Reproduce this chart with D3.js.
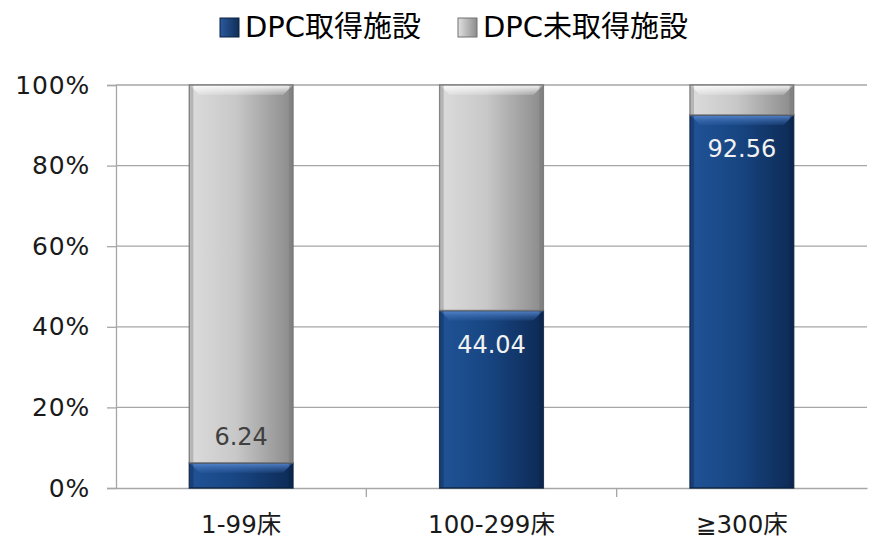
<!DOCTYPE html>
<html>
<head>
<meta charset="utf-8">
<script src="https://cdn.jsdelivr.net/npm/d3@7"></script>
<style>
  body { margin: 0; background: #fff; }
  text { font-family: "DejaVu Sans", "Noto Sans CJK JP", sans-serif; }
</style>
</head>
<body>
<div id="chart"></div>
<script>
// DPC bars, stacked to 100%

// Data
var categories = ['1-99床', '100-299床', '≧300床']
var seriesNames = ['DPC取得施設', 'DPC未取得施設']
var dpcValues = [6.24, 44.04, 92.56]
var nonDpcValues = [93.76, 55.96, 7.44]
var yTicks = [0, 20, 40, 60, 80, 100]

var chart = {
  width: 870,
  height: 542,
  margin: { top: 85, right: 3, bottom: 54, left: 116 },
}

var fontFamily = '"DejaVu Sans", "Noto Sans CJK JP", sans-serif'

chart.svg = d3.select('#chart')
  .append('svg')
  .attr('width', chart.width)
  .attr('height', chart.height)

var defs = chart.svg.append('defs')

// shading for the two series
function addGradient(id, stops, vertical) {
  let g = defs.append('linearGradient')
    .attr('id', id)
    .attr('x1', 0).attr('y1', 0)
    .attr('x2', vertical ? 0 : 1).attr('y2', vertical ? 1 : 0)
  stops.forEach((s) => {
    g.append('stop')
      .attr('offset', s[0])
      .attr('stop-color', s[1])
      .attr('stop-opacity', s[2] === undefined ? 1 : s[2])
  })
}
addGradient('gradBlue', [[0, '#205396'], [0.45, '#184683'], [1, '#0d2a55']])
addGradient('gradGray', [[0, '#dcdcdc'], [0.45, '#c8c8c8'], [1, '#8a8a8a']])
addGradient('legBlue', [[0, '#2a5a9c'], [1, '#102e58']])
addGradient('legGray', [[0, '#e0e0e0'], [1, '#8c8c8c']])
addGradient('bevelGray', [[0, '#ffffff', 0.9], [1, '#ffffff', 0.15]], true)
addGradient('bevelBlue', [[0, '#5a8ad0', 0.95], [1, '#3a6ab0', 0.2]], true)

var innerW = chart.width - chart.margin.left - chart.margin.right
var innerH = chart.height - chart.margin.top - chart.margin.bottom

var x = d3.scaleBand()
  .domain(categories)
  .range([chart.margin.left, chart.margin.left + innerW])
  .paddingInner(0.586)
  .paddingOuter(0.293)

var y = d3.scaleLinear()
  .domain([0, 100])
  .range([chart.margin.top + innerH, chart.margin.top])

// gridlines
chart.svg.append('g')
  .selectAll('line')
  .data(yTicks.filter((d) => d > 0))
  .enter()
  .append('line')
    .attr('x1', chart.margin.left)
    .attr('x2', chart.margin.left + innerW)
    .attr('y1', (d) => y(d))
    .attr('y2', (d) => y(d))
    .attr('stroke', '#a6a6a6')
    .attr('stroke-width', 1.3)

// y axis
var yAxis = chart.svg.append('g')
  .attr('transform', `translate(${chart.margin.left},0)`)
  .call(d3.axisLeft(y).tickValues(yTicks).tickFormat((d) => d + '%').tickSize(9).tickPadding(17))
yAxis.select('.domain').attr('stroke', '#a6a6a6').attr('stroke-width', 1.3)
yAxis.selectAll('.tick line').attr('stroke', '#a6a6a6').attr('stroke-width', 1.3)
yAxis.selectAll('.tick text')
  .attr('font-size', 25)
  .attr('letter-spacing', 0.8)
  .attr('fill', '#1a1a1a')
  .attr('font-family', fontFamily)

// x axis
var xAxis = chart.svg.append('g')
  .attr('transform', `translate(0,${y(0)})`)
  .call(d3.axisBottom(x).tickSize(0).tickPadding(28))
xAxis.select('.domain').attr('stroke', '#a6a6a6').attr('stroke-width', 1.3)
xAxis.selectAll('.tick text')
  .attr('font-size', 24.5)
  .attr('fill', '#1a1a1a')
  .attr('font-family', fontFamily)

// category separators on x axis
var step = x.step()
xAxis.selectAll('line.sep')
  .data(categories.slice(1))
  .enter()
  .append('line')
    .attr('class', 'sep')
    .attr('x1', (d) => x(d) - (step - x.bandwidth()) / 2)
    .attr('x2', (d) => x(d) - (step - x.bandwidth()) / 2)
    .attr('y1', 0)
    .attr('y2', 9)
    .attr('stroke', '#a6a6a6')
    .attr('stroke-width', 1.3)

// stacked segments
var segments = []
categories.forEach((c, i) => {
  segments.push({ cat: c, y0: 0, y1: dpcValues[i], fill: 'url(#gradBlue)', bevel: 'url(#bevelBlue)', edge: '#0b2040' })
  segments.push({ cat: c, y0: dpcValues[i], y1: dpcValues[i] + nonDpcValues[i], fill: 'url(#gradGray)', bevel: 'url(#bevelGray)', edge: '#707070' })
})

var seg = chart.svg.append('g')
  .selectAll('g.seg')
  .data(segments)
  .enter()
  .append('g')
    .attr('class', 'seg')

seg.append('rect')
  .attr('x', (d) => x(d.cat))
  .attr('y', (d) => y(d.y1))
  .attr('width', x.bandwidth())
  .attr('height', (d) => y(d.y0) - y(d.y1))
  .attr('fill', (d) => d.fill)

// top bevel
seg.append('path')
  .attr('d', (d) => {
    let x0 = x(d.cat), x1 = x0 + x.bandwidth(), t = y(d.y1)
    let b = Math.min(10, (y(d.y0) - y(d.y1)) / 2)
    return `M ${x0},${t} L ${x1},${t} L ${x1 - b},${t + b} L ${x0 + b},${t + b} Z`
  })
  .attr('fill', (d) => d.bevel)

// darker side strips
seg.append('rect')
  .attr('x', (d) => x(d.cat) + 1)
  .attr('y', (d) => y(d.y1))
  .attr('width', 3)
  .attr('height', (d) => y(d.y0) - y(d.y1))
  .attr('fill', (d) => d.edge)
  .attr('fill-opacity', 0.35)
seg.append('rect')
  .attr('x', (d) => x(d.cat) + x.bandwidth() - 4)
  .attr('y', (d) => y(d.y1))
  .attr('width', 3)
  .attr('height', (d) => y(d.y0) - y(d.y1))
  .attr('fill', (d) => d.edge)
  .attr('fill-opacity', 0.35)

// outline
seg.append('rect')
  .attr('x', (d) => x(d.cat))
  .attr('y', (d) => y(d.y1))
  .attr('width', x.bandwidth())
  .attr('height', (d) => y(d.y0) - y(d.y1))
  .attr('fill', 'none')
  .attr('stroke', (d) => d.edge)
  .attr('stroke-width', 1.5)
  .attr('stroke-opacity', 0.85)

// data labels
chart.svg.append('g')
  .selectAll('text')
  .data(dpcValues)
  .enter()
  .append('text')
    .attr('x', (d, i) => x(categories[i]) + x.bandwidth() / 2)
    .attr('y', (d) => (y(0) - y(d) > 50 ? y(d) + 42 : y(d) - 18))
    .attr('text-anchor', 'middle')
    .attr('font-size', 24)
    .attr('fill', (d) => (y(0) - y(d) > 50 ? '#f2f2f2' : '#404040'))
    .text((d) => d.toFixed(2))

// legend
var legendX = [220, 458]
var legendFill = ['url(#legBlue)', 'url(#legGray)']
var legend = chart.svg.append('g')
  .selectAll('g')
  .data(seriesNames)
  .enter()
  .append('g')
    .attr('transform', (d, i) => `translate(${legendX[i]},0)`)

legend.append('rect')
  .attr('x', 0)
  .attr('y', 18)
  .attr('width', 19)
  .attr('height', 19)
  .attr('fill', (d, i) => legendFill[i])
  .attr('stroke', (d, i) => (i === 0 ? '#0b2040' : '#707070'))
  .attr('stroke-width', 1)

legend.append('text')
  .attr('x', 25)
  .attr('y', 37)
  .attr('font-size', 29)
  .attr('fill', '#000')
  .text((d) => d)
</script>
</body>
</html>
